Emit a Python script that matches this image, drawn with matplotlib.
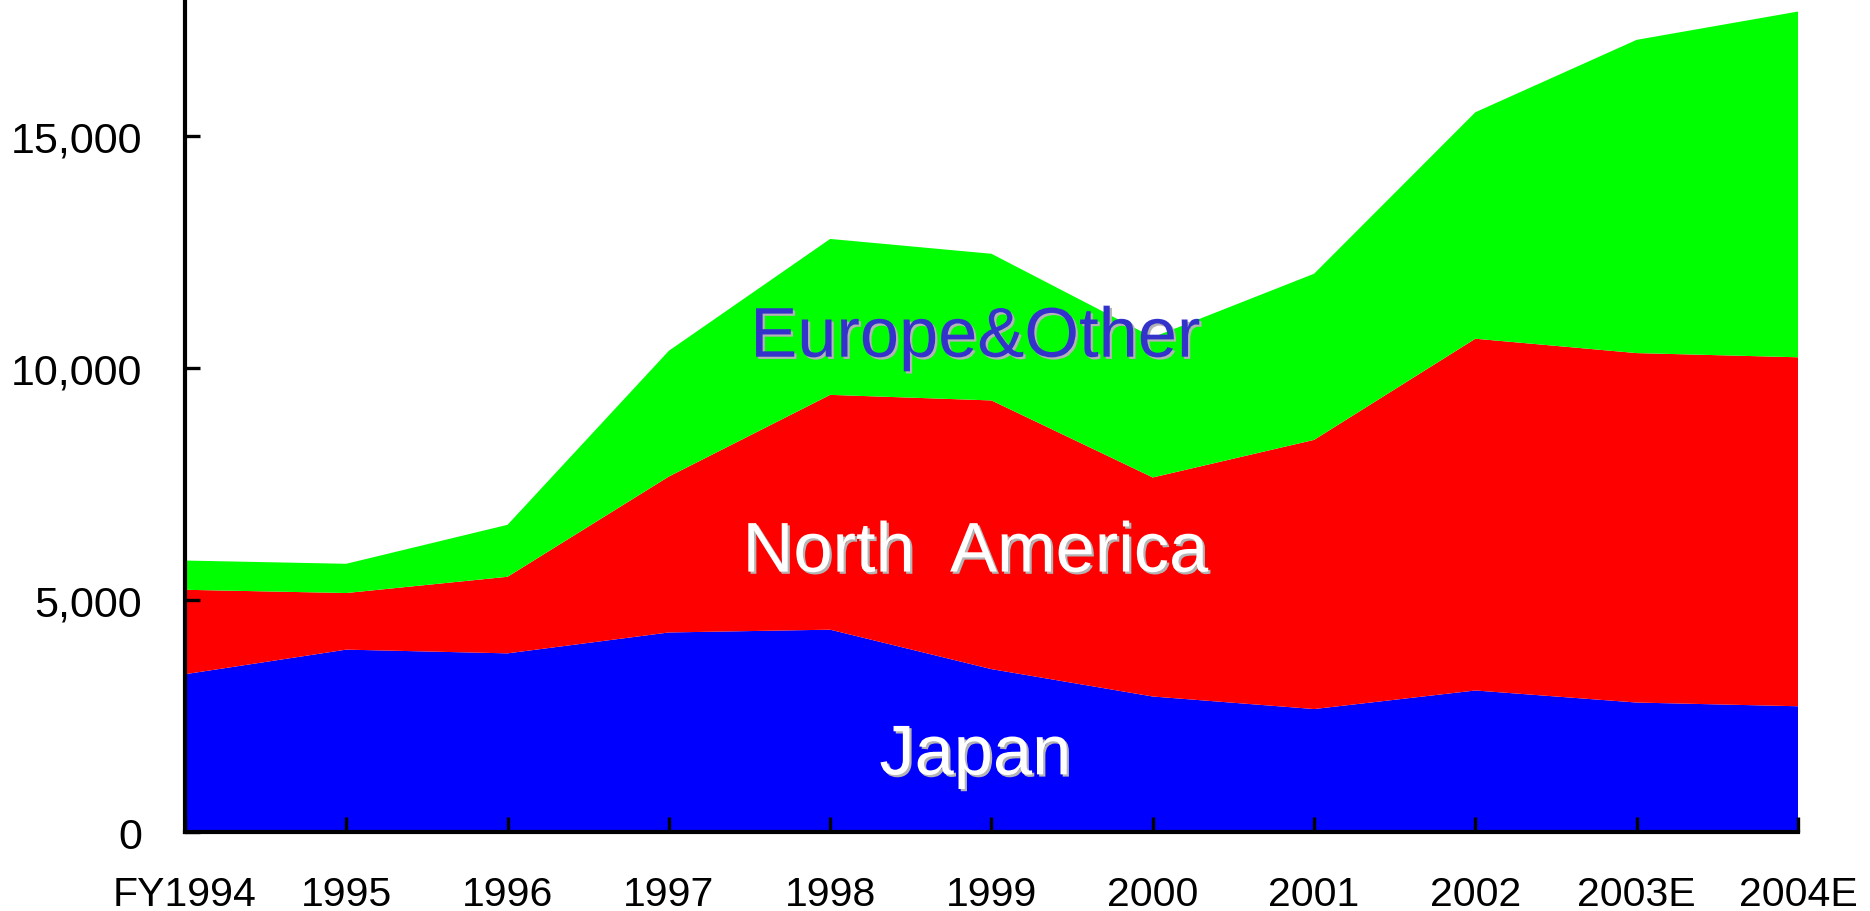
"""
Sales by region, stacked area.
"""
from matplotlib import pyplot as plt
import matplotlib.patheffects as pe

years = ["FY1994", "1995", "1996", "1997", "1998", "1999",
         "2000", "2001", "2002", "2003E", "2004E"]
japan = [3400, 3930, 3850, 4300, 4360, 3510, 2920, 2650, 3050, 2790, 2710]
north_america = [1820, 1220, 1650, 3360, 5060, 5790, 4720, 5800, 7580, 7530, 7520]
europe_other = [630, 630, 1120, 2710, 3360, 3160, 3020, 3580, 4880, 6750, 7450]

yticks = [0, 5000, 10000, 15000]
ytick_labels = ["0", "5,000", "10,000", "15,000"]

plt.rcParams['font.family'] = ['Liberation Sans', 'DejaVu Sans']

fig = plt.figure(figsize=(18.7, 9.12), dpi=100)
ax = fig.add_axes([0.0989, 0.0866, 0.8626, 0.9134])

x = list(range(len(years)))
ax.stackplot(x, japan, north_america, europe_other,
             colors=["#0000FF", "#FF0000", "#00FF00"], linewidth=0)

ax.set_xlim(0, len(years) - 1)
ax.set_ylim(0, 17950)
ax.set_xticks(x)
ax.set_xticklabels(years)
ax.set_yticks(yticks)
ax.set_yticklabels(ytick_labels)

for side in ["top", "right"]:
    ax.spines[side].set_visible(False)
for side in ["left", "bottom"]:
    ax.spines[side].set_linewidth(3.0)
    ax.spines[side].set_zorder(5)

ax.tick_params(axis='both', direction='in', length=11, width=2.4, colors='black')
ax.tick_params(axis='x', pad=31, labelsize=29.5)
ax.tick_params(axis='y', pad=31, labelsize=31)

# region labels with a grey drop shadow
shadow = [pe.withSimplePatchShadow(offset=(1.6, -1.6), shadow_rgbFace='#b4b4b4', alpha=1)]
ax.text(4.9, 10630, "Europe&Other", color="#3333CC", fontsize=50.7,
        ha='center', va='center', path_effects=shadow)
ax.text(4.9, 6000, "North  America", color="white", fontsize=50.7,
        ha='center', va='center', path_effects=shadow)
ax.text(4.9, 1630, "Japan", color="white", fontsize=50.7,
        ha='center', va='center', path_effects=shadow)

plt.savefig("out.png", dpi=100)
